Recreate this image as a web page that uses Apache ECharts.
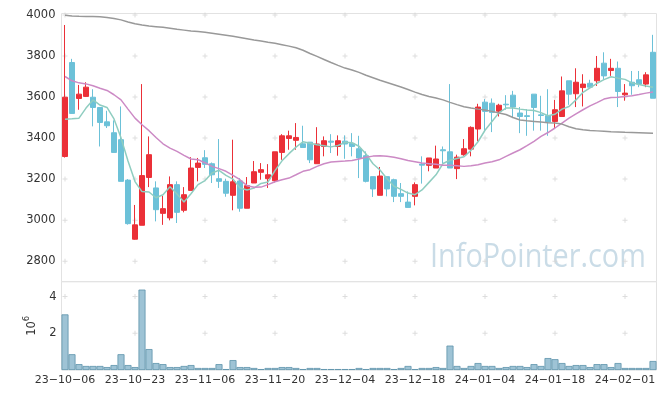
<!DOCTYPE html>
<html><head><meta charset="utf-8">
<script src="https://cdn.jsdelivr.net/npm/echarts@6/dist/echarts.min.js"></script>
<style>html,body{margin:0;padding:0;background:#fff}#c{width:665px;height:399px}</style>
</head><body><div id="c"></div>
<script>
const dates = [
'2023-10-06','2023-10-10','2023-10-11','2023-10-12','2023-10-13','2023-10-16','2023-10-17','2023-10-18','2023-10-19','2023-10-20',
'2023-10-23','2023-10-24','2023-10-25','2023-10-26','2023-10-27','2023-10-30','2023-10-31','2023-11-01','2023-11-02','2023-11-03',
'2023-11-06','2023-11-07','2023-11-08','2023-11-09','2023-11-10','2023-11-13','2023-11-14','2023-11-15','2023-11-16','2023-11-17',
'2023-11-20','2023-11-21','2023-11-22','2023-11-23','2023-11-24','2023-11-27','2023-11-28','2023-11-29','2023-11-30','2023-12-01',
'2023-12-04','2023-12-05','2023-12-06','2023-12-07','2023-12-08','2023-12-11','2023-12-12','2023-12-13','2023-12-14','2023-12-15',
'2023-12-18','2023-12-19','2023-12-20','2023-12-21','2023-12-22','2023-12-26','2023-12-27','2023-12-28','2024-01-02','2024-01-03',
'2024-01-04','2024-01-05','2024-01-08','2024-01-09','2024-01-10','2024-01-11','2024-01-12','2024-01-15','2024-01-16','2024-01-17',
'2024-01-18','2024-01-19','2024-01-22','2024-01-23','2024-01-24','2024-01-25','2024-01-26','2024-01-29','2024-01-30','2024-01-31',
'2024-02-01','2024-02-02','2024-02-05','2024-02-06','2024-02-07'];
const opens = [3310,3768,3593,3603,3599,3549,3479,3426,3392,3195,
2907,2975,3208,3157,3033,3011,3173,3048,3145,3257,
3304,3275,3202,3189,3121,3191,3058,3181,3233,3202,
3192,3330,3398,3389,3372,3380,3275,3359,3385,3359,
3385,3374,3348,3314,3212,3121,3212,3197,3129,3088,
3116,3273,3267,3254,3343,3333,3251,3319,3346,3444,
3575,3570,3531,3565,3609,3522,3509,3614,3513,3509,
3481,3505,3679,3616,3646,3667,3679,3765,3729,3740,
3611,3672,3684,3663,3818];
const closes = [3599,3520,3614,3648,3549,3476,3460,3330,3189,2983,
2977,3217,3319,3051,3056,3173,3038,3124,3254,3278,
3272,3221,3189,3131,3187,3058,3168,3236,3246,3221,
3333,3411,3411,3403,3354,3294,3371,3387,3380,3387,
3371,3359,3303,3189,3152,3215,3152,3116,3116,3062,
3173,3268,3303,3298,3338,3254,3307,3348,3452,3551,
3530,3525,3560,3562,3551,3505,3505,3549,3510,3478,
3538,3630,3614,3672,3663,3648,3740,3703,3740,3627,
3619,3655,3663,3708,3594];
const lows = [3305,3518,3538,3600,3457,3359,3449,3330,3189,2978,
2905,2975,3161,2994,2977,2999,2986,3038,3145,3189,
3254,3181,3157,3114,3048,3041,3058,3181,3197,3157,
3184,3294,3343,3343,3354,3278,3275,3311,3327,3314,
3299,3311,3205,3184,3113,3121,3116,3088,3088,3062,
3072,3178,3238,3254,3278,3254,3200,3314,3311,3384,
3429,3429,3505,3538,3497,3424,3411,3436,3436,3411,
3444,3505,3562,3551,3554,3648,3654,3684,3703,3551,
3582,3611,3648,3648,3594];
const highs = [3951,3786,3659,3672,3638,3549,3533,3486,3554,3200,
3074,3663,3408,3189,3119,3213,3189,3161,3307,3303,
3341,3281,3395,3202,3392,3205,3210,3288,3278,3273,
3333,3419,3436,3473,3460,3380,3453,3408,3419,3413,
3413,3424,3411,3335,3212,3259,3212,3202,3181,3140,
3184,3311,3303,3363,3359,3663,3319,3395,3457,3567,
3590,3593,3567,3609,3630,3551,3541,3614,3606,3638,
3586,3700,3679,3740,3711,3684,3800,3818,3786,3773,
3663,3727,3727,3721,3903];
const volumes = [3.03,0.86,0.32,0.22,0.22,0.22,0.16,0.27,0.86,0.27,
0.16,4.38,1.14,0.38,0.32,0.16,0.16,0.22,0.27,0.11,
0.11,0.11,0.32,0.05,0.54,0.16,0.16,0.11,0.05,0.11,
0.11,0.16,0.16,0.11,0.05,0.11,0.11,0.05,0.05,0.05,
0.05,0.05,0.11,0.05,0.11,0.11,0.11,0.05,0.11,0.22,
0.05,0.11,0.11,0.16,0.11,1.33,0.22,0.11,0.22,0.38,
0.22,0.22,0.11,0.16,0.22,0.22,0.16,0.32,0.22,0.65,
0.59,0.38,0.22,0.27,0.27,0.16,0.32,0.32,0.16,0.38,
0.11,0.11,0.11,0.11,0.49];
const ma5 = [3492,3494,3497,3546,3586,3561,3549,3493,3401,3288,
3188,3139,3137,3109,3124,3163,3127,3088,3129,3173,
3193,3230,3243,3218,3200,3157,3147,3156,3179,3186,
3241,3289,3324,3356,3382,3375,3367,3362,3357,3364,
3379,3377,3360,3322,3275,3244,3202,3165,3150,3132,
3124,3147,3184,3221,3276,3292,3300,3309,3340,3382,
3438,3481,3524,3546,3546,3541,3537,3534,3524,3509,
3516,3541,3554,3586,3623,3645,3667,3685,3699,3692,
3686,3669,3661,3654,3648];
const ma20 = [3700,3679,3669,3664,3655,3643,3632,3611,3586,3541,
3497,3465,3436,3403,3372,3351,3335,3316,3298,3294,
3280,3262,3251,3238,3218,3197,3168,3160,3161,3173,
3187,3197,3205,3221,3238,3246,3262,3275,3283,3286,
3288,3291,3298,3306,3312,3314,3311,3306,3299,3291,
3285,3278,3275,3272,3268,3267,3265,3262,3265,3270,
3278,3285,3294,3311,3327,3343,3363,3384,3408,3427,
3449,3473,3497,3518,3538,3557,3573,3590,3598,3599,
3603,3606,3612,3619,3624];
const ma60 = [3998,3995,3993,3992,3992,3991,3988,3983,3976,3966,
3957,3951,3946,3943,3940,3935,3930,3926,3922,3919,
3916,3911,3906,3901,3896,3890,3884,3878,3873,3867,
3862,3855,3848,3840,3828,3812,3798,3783,3768,3754,
3741,3732,3720,3706,3694,3682,3671,3660,3649,3637,
3624,3612,3603,3595,3586,3574,3563,3553,3546,3541,
3537,3530,3522,3515,3500,3488,3484,3481,3478,3475,
3473,3468,3455,3445,3440,3437,3435,3433,3431,3430,
3428,3427,3426,3425,3424];
const priceTicks = [2800,3000,3200,3400,3600,3800,4000];
const volTicks = [2,4];
const dateTickStep = 10;

const candleData = opens.map((o, i) => [o, closes[i], lows[i], highs[i]]);
const tickDates = dates.filter((d, i) => i % dateTickStep === 0);
const crossFor = ticks => tickDates.flatMap(d => ticks.map(v => [d, v]));
const fmtDate = d => d.slice(2).replace(/-/g, '\u2212');
const fmtNum = v => String(v);

const FONT = 'DejaVu Sans';
const UP = '#eb3038', DOWN = '#6cc1d8';
const crossSym = 'path://M0,2h5v1h-5z M2,0h1v5h-1z';

const chart = echarts.init(document.getElementById('c'), null, {renderer: 'canvas'});
chart.setOption({
  animation: false,
  backgroundColor: '#fff',
  grid: [
    {left: 61.5, top: 13.5, width: 595, height: 268.2, show: true, borderColor: '#e2e2e2', borderWidth: 1},
    {left: 61.5, top: 281.7, width: 595, height: 88.3, show: true, borderColor: '#e2e2e2', borderWidth: 1}
  ],
  xAxis: [
    {type: 'category', gridIndex: 0, data: dates, boundaryGap: true,
     axisLine: {show: false}, axisTick: {show: false}, axisLabel: {show: false}, splitLine: {show: false}},
    {type: 'category', gridIndex: 1, data: dates, boundaryGap: true,
     axisLine: {show: false}, axisTick: {show: false}, splitLine: {show: false},
     axisLabel: {interval: dateTickStep - 1, formatter: fmtDate, fontFamily: FONT, fontSize: 11, color: '#333', margin: 5}}
  ],
  yAxis: [
    {type: 'value', gridIndex: 0, min: 2700, max: 4007, scale: true,
     axisLine: {show: false}, axisTick: {show: false, customValues: priceTicks}, splitLine: {show: false},
     axisLabel: {customValues: priceTicks, formatter: fmtNum, fontFamily: FONT, fontSize: 11.5, color: '#333', margin: 6}},
    {type: 'value', gridIndex: 1, min: 0, max: 4.81,
     axisLine: {show: false}, axisTick: {show: false, customValues: volTicks}, splitLine: {show: false},
     axisLabel: {customValues: volTicks, formatter: fmtNum, fontFamily: FONT, fontSize: 11.5, color: '#333', margin: 5},
     name: '{b|10}{s|6}', nameLocation: 'middle', nameRotate: 90, nameGap: 22,
     nameTextStyle: {rich: {
       b: {fontFamily: FONT, fontSize: 11.5, color: '#333', padding: [4, 0, 0, 0], verticalAlign: 'bottom'},
       s: {fontFamily: FONT, fontSize: 8.5, color: '#333', verticalAlign: 'top'}
     }}}
  ],
  graphic: [{
    type: 'text', x: 430, y: 258, scaleX: 0.9, silent: true, z: 0,
    style: {text: 'InfoPointer.com', font: '32px "Open Sans"', fill: '#cadce7', verticalAlign: 'middle', align: 'left'}
  }],
  series: [
    {type: 'scatter', xAxisIndex: 0, yAxisIndex: 0, data: crossFor(priceTicks), symbol: crossSym, symbolSize: 5,
     itemStyle: {color: '#d4d4d4'}, silent: true, z: 1},
    {type: 'scatter', xAxisIndex: 1, yAxisIndex: 1, data: crossFor(volTicks), symbol: crossSym, symbolSize: 5,
     itemStyle: {color: '#d4d4d4'}, silent: true, z: 1},
    {type: 'candlestick', xAxisIndex: 0, yAxisIndex: 0, data: candleData, barWidth: 4.6, z: 2,
     itemStyle: {color: UP, color0: DOWN, borderColor: UP, borderColor0: DOWN, borderWidth: 1}},
    {type: 'line', xAxisIndex: 0, yAxisIndex: 0, data: ma5, symbol: 'none', z: 3,
     lineStyle: {color: '#8fcdc0', width: 1.5}},
    {type: 'line', xAxisIndex: 0, yAxisIndex: 0, data: ma20, symbol: 'none', z: 3,
     lineStyle: {color: '#cc8ac5', width: 1.5}},
    {type: 'line', xAxisIndex: 0, yAxisIndex: 0, data: ma60, symbol: 'none', z: 3,
     lineStyle: {color: '#999999', width: 1.5}},
    {type: 'bar', xAxisIndex: 1, yAxisIndex: 1, data: volumes, barWidth: '100%', z: 2,
     itemStyle: {color: '#9ec3d5', borderColor: '#5d93ab', borderWidth: 0.8}}
  ]
});
</script></body></html>
